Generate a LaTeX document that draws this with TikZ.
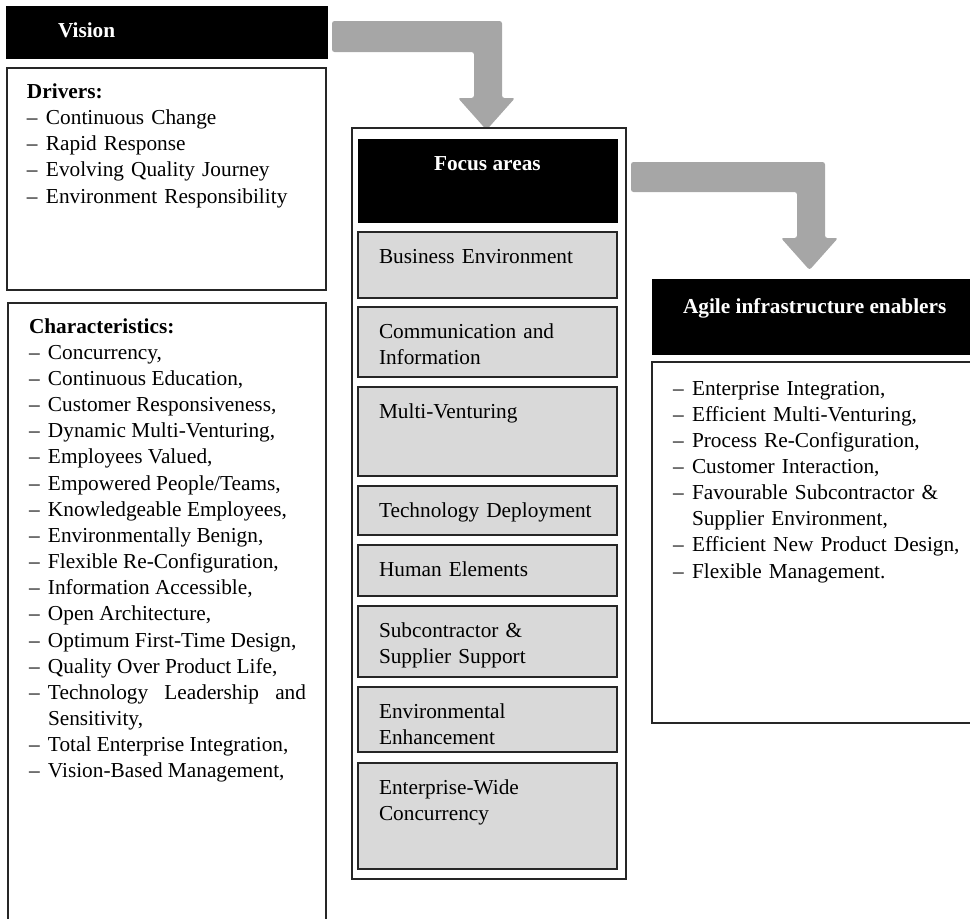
\documentclass[tikz,border=0pt]{standalone}
\usepackage{fontspec}
\setmainfont{Liberation Serif}
\definecolor{arrowgray}{HTML}{A6A6A6}
\definecolor{boxgray}{HTML}{D9D9D9}
\newcommand\itm[1]{\par\hangindent=19pt\hangafter=1\noindent\makebox[19pt][l]{–}#1}
\newcommand\grayitem[4]{%
  \node[gbox, minimum height={#3-#2}, anchor=north west] (#1) at (358,#2) {};
  \node[txt=235pt, anchor=base west] (#1-t) at ([xshift=21pt,yshift=-31pt]#1.north west) {#4};}
\begin{document}
\begin{tikzpicture}[x=1pt,y=-1pt,
  every node/.style={inner sep=0pt, outer sep=0pt},
  txt/.style={font=\fontsize{21.3}{26.15}\selectfont, text width=#1, align=left},
  txt/.default=250pt,
  head/.style={font=\fontsize{21.3}{26.15}\selectfont\bfseries, text=white},
  blk/.style={draw=black, fill=black, line width=1pt},
  wbox/.style={draw=black!85, line width=1.5pt, fill=white},
  gbox/.style={draw=black!85, line width=1.5pt, fill=boxgray, minimum width=259pt},
  bigarrow/.style={fill=arrowgray, rounded corners=2.5pt}
]
\useasboundingbox (0,0) rectangle (970,919);
\clip (0,0) rectangle (970,919);

% Left column
\node[blk, minimum width=321pt, minimum height=52pt, anchor=north west] (vision) at (6,6) {};
\node[head, anchor=base west] (vision-t) at (58,37) {Vision};

\node[wbox, minimum width=319pt, minimum height=222pt, anchor=north west] (drivers) at (7,68) {};
\node[txt=290pt, anchor=base west] (drivers-t) at (27,98.5) {\textbf{Drivers:}%
  \itm{Continuous Change}\itm{Rapid Response}\itm{Evolving Quality Journey}\itm{Environment Responsibility}};

\node[wbox, minimum width=318pt, minimum height=660pt, anchor=north west] (chars) at (8,303) {};
\node[txt=277pt, align=justify, anchor=base west] (chars-t) at (29,333.2) {\textbf{Characteristics:}%
  \itm{Concurrency,}\itm{Continuous Education,}\itm{Customer Responsiveness,}%
  \itm{Dynamic Multi-Venturing,}\itm{Employees Valued,}\itm{Empowered People/Teams,}%
  \itm{Knowledgeable Employees,}\itm{Environmentally Benign,}\itm{Flexible Re-Configuration,}%
  \itm{Information Accessible,}\itm{Open Architecture,}\itm{Optimum First-Time Design,}%
  \itm{Quality Over Product Life,}\itm{Technology Leadership and\linebreak Sensitivity,}%
  \itm{Total Enterprise Integration,}\itm{Vision-Based Management,}\par};

% Arrow 1
\fill[bigarrow] (332,21) -- (502,21) -- (502,98) -- (515,98) -- (486.5,130) -- (458,98)
  -- (474,98) -- (474,52) -- (332,52) -- cycle;

% Middle column
\node[wbox, minimum width=274pt, minimum height=751pt, anchor=north west] (focus) at (352,128) {};
\node[blk, minimum width=259pt, minimum height=83pt, anchor=north west] (focushead) at (358,139) {};
\node[head, anchor=base west] (focushead-t) at (434,170) {Focus areas};

\grayitem{be}{232}{298}{Business Environment}
\grayitem{ci}{307}{377}{Communication and\\Information}
\grayitem{mv}{387}{476}{Multi-Venturing}
\grayitem{td}{486}{535}{Technology Deployment}
\grayitem{he}{545}{596}{Human Elements}
\grayitem{ss}{606}{677}{Subcontractor \&\\Supplier Support}
\grayitem{ee}{687}{752}{Environmental\\Enhancement}
\grayitem{ew}{763}{869}{Enterprise-Wide\\Concurrency}

% Arrow 2
\fill[bigarrow] (631,162) -- (825,162) -- (825,238) -- (838,238) -- (809.5,270) -- (781,238)
  -- (797,238) -- (797,192) -- (631,192) -- cycle;

% Right column
\node[blk, minimum width=340pt, minimum height=75pt, anchor=north west] (agile) at (652,279) {};
\node[head, anchor=base west] (agile-t) at (683,313) {Agile infrastructure enablers};

\node[wbox, minimum width=340pt, minimum height=361pt, anchor=north west] (enablers) at (652,362) {};
\node[txt=290pt, anchor=base west] (enablers-t) at (673,395) {%
  \noindent\makebox[19pt][l]{–}Enterprise Integration,%
  \itm{Efficient Multi-Venturing,}\itm{Process Re-Configuration,}\itm{Customer Interaction,}%
  \itm{Favourable Subcontractor \&\newline Supplier Environment,}%
  \itm{Efficient New Product Design,}\itm{Flexible Management.}};
\end{tikzpicture}
\end{document}
